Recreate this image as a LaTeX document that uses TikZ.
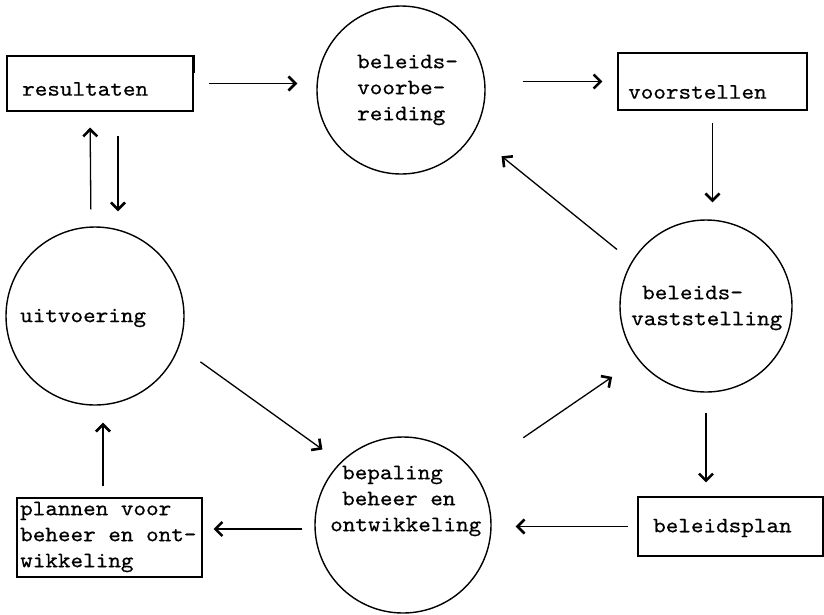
\documentclass[tikz,border=0pt]{standalone}
\usepackage{fontspec}
\setmonofont{lmmono10-regular.otf}[FakeStretch=1.09, FakeBold=0.5]
\usetikzlibrary{arrows.meta}

\begin{document}
\begin{tikzpicture}[x=1pt,y=-1pt,
  every node/.style={font=\ttfamily\fontsize{22}{26}\selectfont},
  circ/.style={draw, circle, line width=1.4pt, inner sep=0pt},
  boxnode/.style={draw, rectangle, line width=1.1pt, inner sep=0pt},
  lbl/.style={anchor=west, inner sep=0pt, align=left},
  arr/.style={line width=1.3pt, -{Straight Barb[length=7pt,width=14pt,line width=2.6pt]}}
]
\useasboundingbox (0,0) rectangle (824,614);

% circles
\node[circ, minimum size=168pt] (vb)  at (401,90)  {};
\node[circ, minimum size=172pt] (vs)  at (706,306) {};
\node[circ, minimum size=176pt] (bep) at (403,525) {};
\node[circ, minimum size=178pt] (uit) at (95,316)  {};

% boxes
\node[boxnode, minimum width=186pt, minimum height=55pt] (res)  at (100,83.5)  {};
\node[boxnode, minimum width=189pt, minimum height=57pt] (voor) at (712.5,81.5) {};
\node[boxnode, minimum width=185pt, minimum height=59pt] (bp)   at (730.5,526.5) {};
\node[boxnode, minimum width=185pt, minimum height=79pt] (plan) at (109.5,537.5) {};
\draw[line width=2.4pt] (res.north east) -- ([yshift=-18pt]res.north east);

% labels
\node[lbl] (tvb)   at (357,90)  {beleids-\\voorbe-\\reiding};
\node[lbl] (tvs)   at (631,308) {\hspace*{11pt}beleids-\\vaststelling};
\node[lbl] (tbep)  at (330,501) {\hspace*{12pt}bepaling\\\hspace*{12pt}beheer en\\ontwikkeling};
\node[lbl] (tuit)  at (20,318)  {uitvoering};
\node[lbl] (tres)  at (22,89)   {resultaten};
\node[lbl] (tvoor) at (628,92)  {voorstellen};
\node[lbl] (tbp)   at (653,528) {beleidsplan};
\node[lbl] (tplan) at (20,537)  {plannen voor\\beheer en ont-\\wikkeling};

% connectors
\draw[arr, shorten <=15pt, shorten >=19pt] (res.east) -- (res.east -| vb.west);
\draw[arr, shorten <=37pt, shorten >=15pt] (voor.west -| vb.east) -- (voor.west);
\draw[arr, shorten <=12pt, shorten >=17pt] (voor.south) -- (voor.south |- vs.north);
\draw[arr, shorten <=19pt, shorten >=36pt] (vs.149.3) -- (vb.-31.7);
\draw[arr, shorten <=20pt, shorten >=14pt] (vs.south) -- (vs.south |- bp.north);
\draw[arr, shorten <=9pt,  shorten >=24pt] (bp.west) -- (bp.west -| bep.east);
\draw[arr, shorten <=60pt, shorten >=31pt] (bep.37.2) -- (vs.218.5);
\draw[arr, shorten <=26pt, shorten >=22pt] (uit.-20.1) -- (bep.135.4);
\draw[arr, shorten <=12pt, shorten >=11pt] ([yshift=-4pt]bep.west) -- ([yshift=-4pt]bep.west -| plan.east);
\draw[arr, shorten <=11pt, shorten >=17pt] ([xshift=-6.5pt]plan.north) -- ([xshift=8pt]uit.south);
\draw[arr, shorten <=17pt, shorten >=16pt] ([xshift=-4pt]uit.north) -- ([xshift=-10pt]res.south);
\draw[arr, shorten <=24pt, shorten >=15pt] ([xshift=18pt]res.south) -- ([xshift=23pt]uit.north);
\end{tikzpicture}
\end{document}
